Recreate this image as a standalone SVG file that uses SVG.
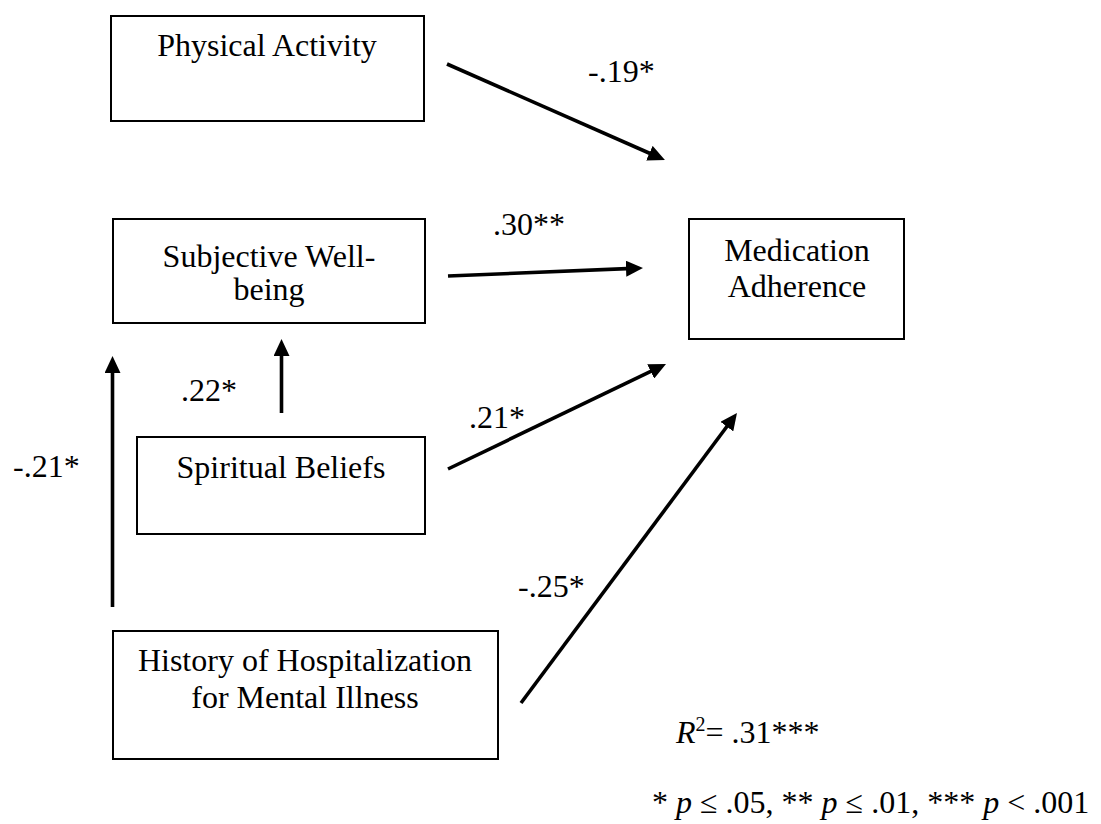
<svg xmlns="http://www.w3.org/2000/svg" width="1101" height="824" viewBox="0 0 1101 824">
<style>
text{font-family:"Liberation Serif","Times New Roman",serif;font-size:32px;fill:#000}
.box{fill:#fff;stroke:#000;stroke-width:2}
.c{text-anchor:middle}
.edge{stroke:#000;stroke-width:3.6;fill:none;marker-end:url(#ah)}
.i{font-style:italic}
</style>
<defs>
<marker id="ah" viewBox="0 0 17 16" refX="7" refY="8" markerWidth="17" markerHeight="16" markerUnits="userSpaceOnUse" orient="auto">
<path d="M0,0 L17,8 L0,16 z" fill="#000"/>
</marker>
</defs>
<rect width="1101" height="824" fill="#fff"/>
<g id="physical-activity">
<rect class="box" x="111" y="16" width="313" height="105"/>
<text class="c" x="267" y="56">Physical Activity</text>
</g>
<g id="subjective-wellbeing">
<rect class="box" x="113" y="219" width="312" height="104"/>
<text class="c" x="269" y="267">Subjective Well-<tspan x="269" dy="33">being</tspan></text>
</g>
<g id="spiritual-beliefs">
<rect class="box" x="137" y="437" width="288" height="97"/>
<text class="c" x="281" y="478">Spiritual Beliefs</text>
</g>
<g id="history-hospitalization">
<rect class="box" x="113" y="631" width="385" height="128"/>
<text class="c" x="305" y="671">History of Hospitalization<tspan x="305" dy="37">for Mental Illness</tspan></text>
</g>
<g id="medication-adherence">
<rect class="box" x="689" y="219" width="215" height="120"/>
<text class="c" x="797" y="261">Medication<tspan x="797" dy="36">Adherence</tspan></text>
</g>
<g id="connectors">
<line class="edge" x1="447" y1="64" x2="655.8" y2="156"/>
<line class="edge" x1="448" y1="276" x2="633" y2="268.4"/>
<line class="edge" x1="448" y1="469" x2="657" y2="368.3"/>
<line class="edge" x1="521" y1="703" x2="731" y2="421"/>
<line class="edge" x1="281.5" y1="413" x2="281.5" y2="349"/>
<line class="edge" x1="112.5" y1="607" x2="112.5" y2="366"/>
</g>
<g id="labels">
<text x="588" y="82">-.19*</text>
<text x="493" y="235">.30**</text>
<text x="181" y="401">.22*</text>
<text x="13" y="477">-.21*</text>
<text x="469" y="428">.21*</text>
<text x="518" y="597">-.25*</text>
</g>
<g id="notes">
<text x="676" y="743"><tspan class="i">R</tspan><tspan font-size="20" dy="-12">2</tspan><tspan dy="12">= .31***</tspan></text>
<text x="652" y="813">* <tspan class="i">p</tspan> ≤ .05, ** <tspan class="i">p</tspan> ≤ .01, *** <tspan class="i">p</tspan> &lt; .001</text>
</g>
</svg>
